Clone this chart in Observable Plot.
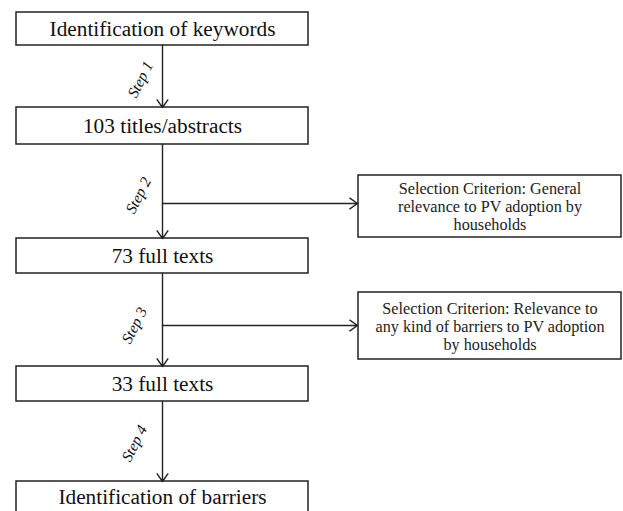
<!DOCTYPE html>
<html>
<head>
<meta charset="utf-8">
<script src="https://cdn.jsdelivr.net/npm/d3@7"></script>
<script src="https://cdn.jsdelivr.net/npm/@observablehq/plot@0.6"></script>
<style>
  html, body { margin: 0; padding: 0; background: #fff; }
  #chart svg { display: block; }
</style>
</head>
<body>
<div id="chart"></div>
<script>
// ---- content ----
const mainLabels = [
  "Identification of keywords",
  "103 titles/abstracts",
  "73 full texts",
  "33 full texts",
  "Identification of barriers"
];
const stepLabels = ["Step 1", "Step 2", "Step 3", "Step 4"];
const criterionLabels = [
  "Selection Criterion: General\nrelevance to PV adoption by\nhouseholds",
  "Selection Criterion: Relevance to\nany kind of barriers to PV adoption\nby households"
];
const criterionStep = [1, 2]; // which step (index) branches to each criterion

// ---- layout (diagram coordinates, pixel-like units) ----
const mainTop = [12, 107, 238, 366, 481];
const mainBottom = [45, 144, 273, 401, 530];
const mainTextY = [29, 126, 256, 384, 497];
const mainLeft = 16, mainRight = 308, spineX = 162;
const critTop = [175, 292];
const critBottom = [237, 359];
const critLeft = 358, critRight = 621;
const branchY = [203, 325];
const stepLabelX = [140, 138, 134, 134];
const stepLabelY = [79, 195, 325, 443];

const mainBoxes = mainLabels.map((label, i) => ({
  label, x1: mainLeft, x2: mainRight, y1: mainTop[i], y2: mainBottom[i], ty: mainTextY[i]
}));
const critBoxes = criterionLabels.map((label, i) => ({
  label, x1: critLeft, x2: critRight, y1: critTop[i], y2: critBottom[i],
  ty: (critTop[i] + critBottom[i]) / 2
}));
const downArrows = stepLabels.map((s, i) => ({
  x1: spineX, x2: spineX, y1: mainBottom[i], y2: mainTop[i + 1]
}));
const sideArrows = criterionStep.map((s, i) => ({
  x1: spineX, x2: critLeft - 1, y1: branchY[i], y2: branchY[i]
}));
const steps = stepLabels.map((label, i) => ({ label, x: stepLabelX[i], y: stepLabelY[i] }));

const serif = "'Liberation Serif', 'Times New Roman', serif";
const ink = "#222";

const chart = Plot.plot({
  width: 623,
  height: 511,
  margin: 0,
  x: { domain: [0, 623], range: [0, 623], axis: null },
  y: { domain: [0, 511], range: [0, 511], axis: null },
  style: { background: "#fff", fontFamily: serif },
  marks: [
    Plot.rect(mainBoxes, { x1: "x1", x2: "x2", y1: "y1", y2: "y2", fill: "white", stroke: ink, strokeWidth: 1.5 }),
    Plot.rect(critBoxes, { x1: "x1", x2: "x2", y1: "y1", y2: "y2", fill: "white", stroke: ink, strokeWidth: 1.5 }),
    Plot.arrow(downArrows, { x1: "x1", y1: "y1", x2: "x2", y2: "y2", stroke: ink, strokeWidth: 1.4, headLength: 10, headAngle: 70 }),
    Plot.arrow(sideArrows, { x1: "x1", y1: "y1", x2: "x2", y2: "y2", stroke: ink, strokeWidth: 1.4, headLength: 10, headAngle: 70 }),
    Plot.text(mainBoxes, { x: d => (d.x1 + d.x2) / 2, y: "ty", text: "label", fontSize: 21.3, fill: "#111", textAnchor: "middle", lineAnchor: "middle", fontFamily: serif }),
    Plot.text(critBoxes, { x: d => (d.x1 + d.x2) / 2, y: "ty", text: "label", fontSize: 16.2, lineHeight: 1.12, fill: "#222", textAnchor: "middle", lineAnchor: "middle", fontFamily: serif }),
    Plot.text(steps, { x: "x", y: "y", text: "label", fontSize: 15.5, fontStyle: "italic", rotate: -63, fill: "#111", textAnchor: "middle", lineAnchor: "middle", fontFamily: serif })
  ]
});
document.getElementById("chart").appendChild(chart);
</script>
</body>
</html>
